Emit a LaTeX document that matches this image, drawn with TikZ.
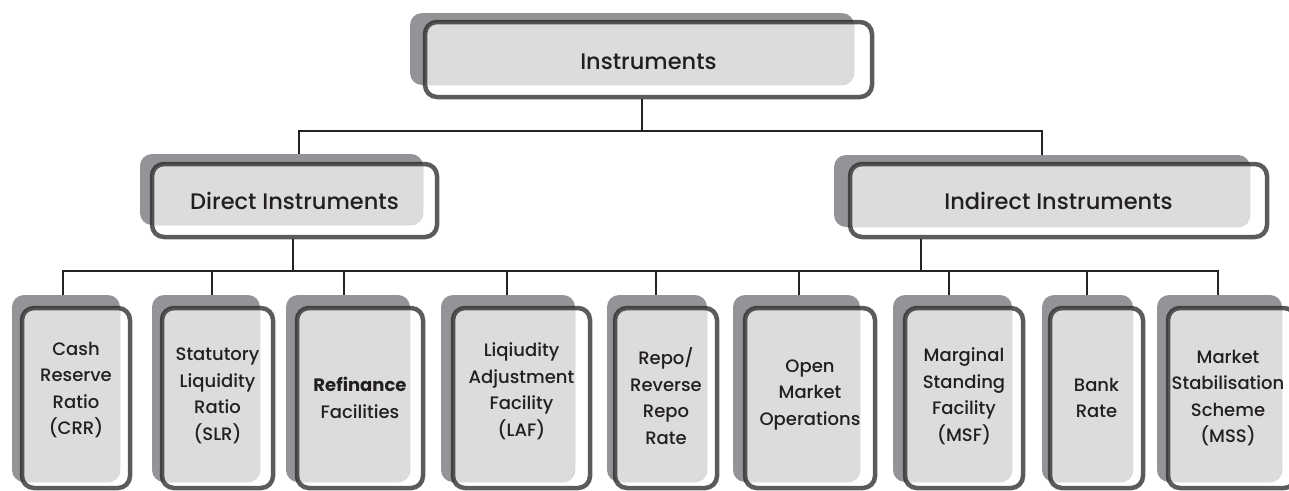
\documentclass[tikz,border=0pt]{standalone}
\usepackage{fontspec}
\setmainfont{Poppins}[UprightFont={* Medium}, BoldFont={* Bold}]
\usetikzlibrary{fit}
\definecolor{shadowgray}{RGB}{147,147,152}
\definecolor{lightfill}{RGB}{220,220,220}
\definecolor{edgegray}{RGB}{40,40,40}
\definecolor{textdark}{RGB}{35,31,32}
\definecolor{linedark}{RGB}{35,35,35}
\tikzset{
  shad/.style={fill=shadowgray, rounded corners=12pt, inner sep=0pt, draw=none},
  outl/.style={draw=edgegray, draw opacity=0.76, line width=4.5pt, rounded corners=12pt, inner sep=0pt},
  toptext/.style={text=textdark, align=center, font=\fontsize{22.5}{26}\selectfont},
  lowtext/.style={text=textdark, align=center, font=\fontsize{18}{26.5}\selectfont},
  conn/.style={draw=linedark, line width=2.6pt},
}
% #1 name, #2-#5 shadow rect, #6-#9 outline rect
\newcommand\ibox[9]{%
  \node[shad, fit={(#2,#3) (#4,#5)}] (#1s) {};
  \begin{scope}
    \clip[rounded corners=12pt] (#6,#7) rectangle (#8,#9);
    \fill[lightfill, rounded corners=12pt] (#2,#3) rectangle (#4,#5);
  \end{scope}
  \node[outl, fit={(#6,#7) (#8,#9)}] (#1) {};
}
\begin{document}
\begin{tikzpicture}[x=1pt,y=-1pt]
\useasboundingbox (0,0) rectangle (1289,490);
% boxes
\ibox{top}{410}{13}{854}{85}{425}{22}{872}{97}
\ibox{dir}{140}{154}{423}{225}{152}{164}{437}{237}
\ibox{ind}{834}{155}{1250}{227}{850}{164}{1267}{237}
\ibox{crr}{12}{295}{120}{482}{22}{308}{130}{488}
\ibox{slr}{152}{295}{260}{482}{162}{308}{273}{488}
\ibox{ref}{286}{295}{410}{482}{297}{308}{423}{488}
\ibox{laf}{441}{295}{575}{482}{453}{308}{590}{488}
\ibox{rep}{607}{295}{707}{482}{615}{308}{717}{488}
\ibox{omo}{733}{295}{860}{482}{745}{308}{875}{488}
\ibox{msf}{893}{295}{1012}{482}{905}{308}{1023}{488}
\ibox{bnk}{1042}{295}{1133}{482}{1050}{308}{1143}{488}
\ibox{mss}{1157}{295}{1282}{482}{1168}{308}{1296}{488}
% texts
\node[toptext] (topt) at ([yshift=-2pt]top.center) {Instruments};
\node[toptext] (dirt) at (dir.center) {Direct Instruments};
\node[toptext] (indt) at (ind.center) {Indirect Instruments};
\node[lowtext] (crrt) at ([yshift=8pt]crr.center) {Cash\\Reserve\\Ratio\\(CRR)};
\node[lowtext] (slrt) at ([yshift=2pt]slr.center) {Statutory\\Liquidity\\Ratio\\(SLR)};
\node[lowtext] (reft) at (ref.center) {{\bfseries Refinance}\\Facilities};
\node[lowtext] (laft) at ([yshift=7pt]laf.center) {Liqiudity\\Adjustment\\Facility\\(LAF)};
\node[lowtext] (rept) at ([yshift=2pt]rep.center) {Repo/\\Reverse\\Repo\\Rate};
\node[lowtext] (omot) at ([yshift=3pt]omo.center) {Open\\Market\\Operations};
\node[lowtext] (msft) at ([yshift=2pt]msf.center) {Marginal\\Standing\\Facility\\(MSF)};
\node[lowtext] (bnkt) at (bnk.center) {Bank\\Rate};
\node[lowtext] (msst) at ([xshift=-4pt]mss.center) {Market\\Stabilisation\\Scheme\\(MSS)};
% connectors
\coordinate (bus1) at (642,131);
\coordinate (bus2) at (293,271);
\coordinate (bus3) at (921,271);
\draw[conn] (top.south -| bus1) -- (bus1);
\draw[conn] (dirs.north -| 299,0) |- (bus1) -| (inds.north -| 1042,0);
\draw[conn] (dir.south -| bus2) -- (bus2);
\draw[conn] (ind.south -| bus3) -- (bus3);
\draw[conn] (crrs.north -| 63,0) |- (bus2) -| (msss.north -| 1218,0);
\foreach \n/\x in {slr/212, ref/344, laf/507, rep/656, omo/799, msf/949, bnk/1087}
  \draw[conn] (\n s.north -| \x,0) -- (\x,271);
\end{tikzpicture}
\end{document}
